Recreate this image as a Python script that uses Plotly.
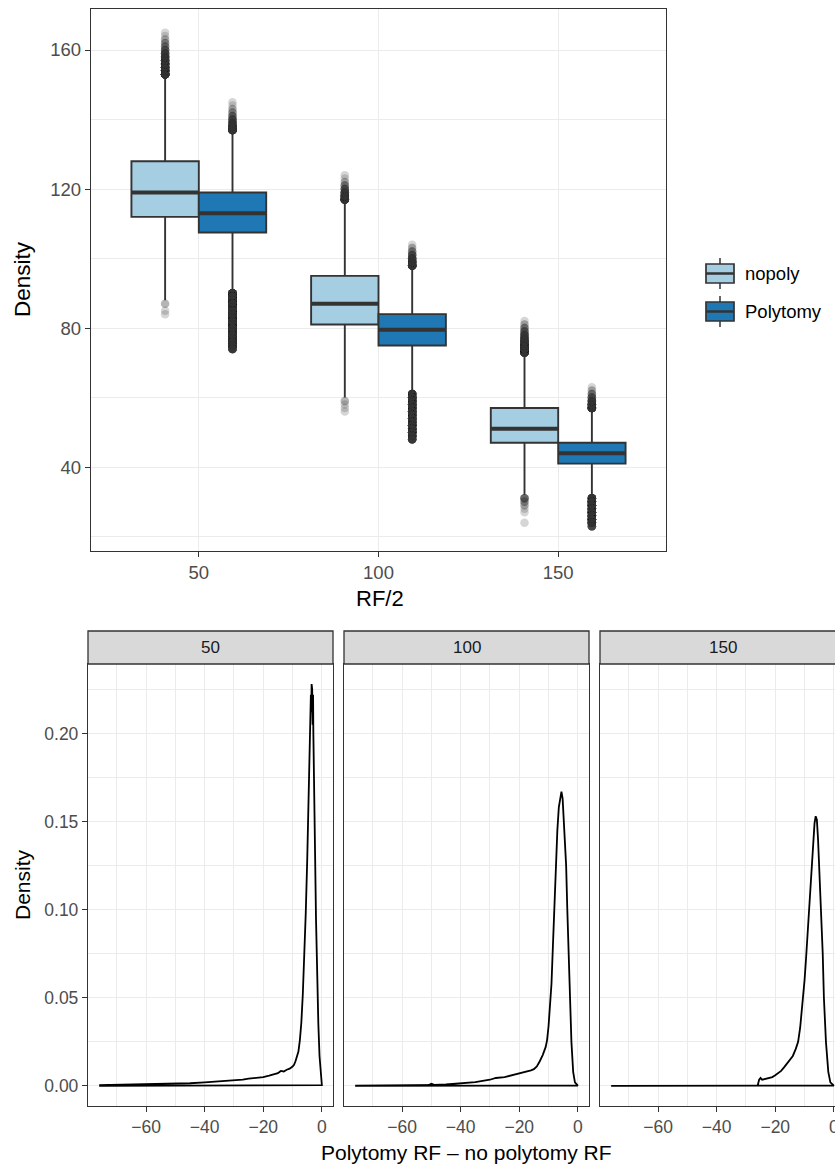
import plotly.graph_objects as go

W, H = 835, 1170

# ---------------- box plot data (RF/2 groups) ----------------
rf_groups = ["50", "100", "150"]
series_names = ["nopoly", "Polytomy"]

nopoly_q1 = [112, 81, 47]
nopoly_median = [119, 87, 51]
nopoly_q3 = [128, 95, 57]
nopoly_lowerfence = [88, 60, 32]
nopoly_upperfence = [152, 116, 72]

poly_q1 = [107.5, 75, 41]
poly_median = [113, 79.5, 44]
poly_q3 = [119, 84, 47]
poly_lowerfence = [91, 62, 32]
poly_upperfence = [136, 97, 56]

# outliers as (value, number of observations) per group
nopoly_outliers = [
    [(153, 40), (154, 30), (155, 25), (156, 20), (157, 16), (158, 12), (159, 9),
     (160, 6), (161, 4), (162, 3), (163, 2), (164, 1), (165, 1),
     (87, 2), (85, 1), (84, 1)],
    [(117, 30), (118, 20), (119, 12), (120, 7), (121, 4), (122, 2), (123, 1), (124, 1),
     (59, 2), (58, 1), (57, 1), (56, 1)],
    [(73, 30), (74, 30), (75, 25), (76, 20), (77, 14), (78, 10), (79, 6), (80, 4),
     (81, 2), (82, 1),
     (31, 6), (30, 3), (29, 2), (28, 1), (27, 1), (24, 1)],
]
poly_outliers = [
    [(137, 30), (138, 20), (139, 12), (140, 8), (141, 5), (142, 3), (143, 2), (144, 1), (145, 1),
     (90, 25), (89, 30), (88, 30), (87, 30), (86, 30), (85, 30), (84, 30), (83, 30),
     (82, 30), (81, 30), (80, 30), (79, 30), (78, 30), (77, 30), (76, 30), (75, 25), (74, 15)],
    [(98, 30), (99, 20), (100, 12), (101, 7), (102, 4), (103, 2), (104, 1),
     (61, 20), (60, 30), (59, 30), (58, 30), (57, 30), (56, 30), (55, 30), (54, 30),
     (53, 30), (52, 30), (51, 30), (50, 30), (49, 25), (48, 15)],
    [(57, 30), (58, 20), (59, 12), (60, 7), (61, 4), (62, 2), (63, 1),
     (31, 20), (30, 30), (29, 30), (28, 30), (27, 30), (26, 30), (25, 30), (24, 25), (23, 10)],
]

# ---------------- density data (Polytomy RF - no polytomy RF) ----------------
facet_labels = ["50", "100", "150"]

dens50_x = [-76, -70, -65, -60, -55, -50, -45, -40, -35, -30,
            -27, -25, -22, -20, -18, -17, -15, -14, -13, -12,
            -11, -10, -9.5, -9, -8.5, -8, -7.5, -7, -6.5, -6,
            -5.5, -5, -4.7, -4.4, -4.2, -4.0, -3.9, -3.75, -3.6, -3.5,
            -3.4, -3.3, -3.15, -3.0, -2.9, -2.8, -2.6, -2.3, -2.0, -1.6,
            -1.2, -0.8, -0.4, 0]
dens50_y = [0.0004, 0.0006, 0.0006, 0.0008, 0.0010, 0.0012, 0.0015, 0.0020, 0.0025, 0.0031,
            0.0036, 0.0041, 0.0046, 0.0050, 0.0058, 0.0062, 0.0072, 0.0085, 0.0082, 0.0092,
            0.0098, 0.0110, 0.0120, 0.0140, 0.0165, 0.0195, 0.0260, 0.0360, 0.0520, 0.0730,
            0.0980, 0.1280, 0.1500, 0.1850, 0.1950, 0.2150, 0.2050, 0.2220, 0.2120, 0.2280,
            0.2150, 0.2250, 0.2050, 0.2220, 0.2000, 0.1800, 0.1650, 0.1300, 0.0950, 0.0600,
            0.0350, 0.0170, 0.0060, 0.0005]

dens100_x = [-76, -65, -55, -51, -50, -49, -45, -40, -35, -30,
             -28, -25, -22, -20, -18, -16, -15, -14, -13, -12,
             -11, -10.5, -10, -9.5, -9, -8.5, -8, -7.5, -7, -6.5,
             -6, -5.6, -5.2, -4.8, -4.4, -4.0, -3.6, -3.2, -2.7, -2.2,
             -1.6, -1.0, 0]
dens100_y = [0.0002, 0.0002, 0.0003, 0.0004, 0.0012, 0.0006, 0.0008, 0.0015, 0.0022, 0.0035,
             0.0045, 0.0050, 0.0062, 0.0068, 0.0080, 0.0088, 0.0095, 0.0110, 0.0140, 0.0175,
             0.0220, 0.0260, 0.0340, 0.0440, 0.0580, 0.0800, 0.1030, 0.1250, 0.1450, 0.1580,
             0.1650, 0.1670, 0.1630, 0.1500, 0.1400, 0.1250, 0.1000, 0.0750, 0.0500, 0.0250,
             0.0080, 0.0020, 0.0002]

dens150_x = [-76, -27, -26, -25.5, -25, -24.5, -24, -23, -22, -21,
             -20, -19, -18, -17, -16, -15, -14, -13, -12.2, -11.5,
             -11, -10.5, -10, -9.5, -9, -8.5, -8, -7.5, -7, -6.6,
             -6.2, -5.8, -5.4, -5.0, -4.6, -4.3, -3.8, -3.4, -2.7, -1.9,
             -1.2, 0]
dens150_y = [0.0, 0.0, 0.0002, 0.0035, 0.0045, 0.0035, 0.0037, 0.0038, 0.0042, 0.0050,
             0.0060, 0.0072, 0.0085, 0.0105, 0.0125, 0.0148, 0.0170, 0.0210, 0.0250, 0.0330,
             0.0410, 0.0500, 0.0600, 0.0720, 0.0850, 0.0980, 0.1100, 0.1250, 0.1390, 0.1490,
             0.1530, 0.1510, 0.1400, 0.1250, 0.1100, 0.1000, 0.0750, 0.0500, 0.0250, 0.0080,
             0.0020, 0.0002]

density_x = [dens50_x, dens100_x, dens150_x]
density_y = [dens50_y, dens100_y, dens150_y]

# ---------------- styling ----------------
FILL = {"nopoly": "#A6CEE3", "Polytomy": "#1F78B4"}
DARK = "#333333"
GRID = "#EBEBEB"
TICKFONT = "#4D4D4D"
FONT = "Liberation Sans, Arial, sans-serif"


def fx(px):
    return px / W


def fy(py):
    return 1 - py / H


fig = go.Figure()

# ---------------- top: grouped box plot ----------------
dodge = 0.1875
box_w = 0.375
groups = list(range(1, len(rf_groups) + 1))

box_sets = [
    ("nopoly", -dodge, nopoly_q1, nopoly_median, nopoly_q3, nopoly_lowerfence, nopoly_upperfence, nopoly_outliers),
    ("Polytomy", dodge, poly_q1, poly_median, poly_q3, poly_lowerfence, poly_upperfence, poly_outliers),
]

for name, off, q1, med, q3, lo, hi, outs in box_sets:
    centers = [g + off for g in groups]
    fig.add_trace(go.Box(
        x=centers, q1=q1, median=med, q3=q3, lowerfence=lo, upperfence=hi,
        width=box_w, whiskerwidth=0, boxpoints=False,
        fillcolor=FILL[name], line=dict(color=DARK, width=1.9),
        name=name, xaxis="x", yaxis="y", hoverinfo="skip",
    ))
    # thicker median bars
    mx, my = [], []
    for c, m in zip(centers, med):
        mx += [c - box_w / 2, c + box_w / 2, None]
        my += [m, m, None]
    fig.add_trace(go.Scatter(x=mx, y=my, mode="lines", line=dict(color=DARK, width=4),
                             xaxis="x", yaxis="y", hoverinfo="skip"))
    # outliers (semi-transparent, so repeated values pile up darker)
    ox, oy = [], []
    for c, pts in zip(centers, outs):
        for v, n in pts:
            ox += [c] * n
            oy += [v] * n
    fig.add_trace(go.Scatter(x=ox, y=oy, mode="markers",
                             marker=dict(size=8.5, color="rgba(51,51,51,0.2)", line=dict(width=0)),
                             xaxis="x", yaxis="y", hoverinfo="skip"))

# ---------------- bottom: density facets ----------------
for i, (dx, dy) in enumerate(zip(density_x, density_y)):
    k = i + 2
    # closed outline: curve plus baseline back to the start
    xs = list(dx) + [dx[0]]
    ys = list(dy) + [0.0]
    fig.add_trace(go.Scatter(x=xs, y=ys, mode="lines", line=dict(color="black", width=1.8),
                             xaxis=f"x{k}", yaxis=f"y{k}", hoverinfo="skip"))

# ---------------- axes ----------------
line_kw = dict(showline=True, linecolor=DARK, linewidth=1.3, zeroline=False, automargin=False,
               ticks="outside", ticklen=5, tickwidth=1.2, tickcolor=DARK,
               gridcolor=GRID, gridwidth=1.3)

layout = dict(
    width=W, height=H, margin=dict(l=0, r=0, t=0, b=0, autoexpand=False),
    paper_bgcolor="white", plot_bgcolor="white", showlegend=False,
    font=dict(family=FONT, color="black"),
    xaxis=dict(domain=[fx(91), fx(666)], range=[0.4, 3.6], anchor="y",
               tickvals=groups, ticktext=rf_groups, mirror=True,
               tickfont=dict(size=18.5, color=TICKFONT), **line_kw),
    yaxis=dict(domain=[fy(551), fy(9)], range=[15.85, 171.8], anchor="x",
               tickvals=[40, 80, 120, 160], mirror=True,
               minor=dict(tickvals=[20, 60, 100, 140], showgrid=True, gridcolor=GRID, gridwidth=0.7),
               tickfont=dict(size=18.5, color=TICKFONT), **line_kw),
)

PANEL_TOP, PANEL_BOTTOM = 664, 1106
STRIP_TOP = 631
full_range = [-79.8, 3.8]
px_per_unit = 245 / (full_range[1] - full_range[0])
facet_left = [88, 344, 600]
for i, left in enumerate(facet_left):
    k = i + 2
    right = left + 245
    if right > W:
        # last facet runs past the page edge
        xr = [full_range[0], full_range[0] + (W - left) / px_per_unit]
        right_px = W
    else:
        xr = full_range
        right_px = right
    layout[f"xaxis{k}"] = dict(
        domain=[fx(left), fx(right_px)], range=xr, anchor=f"y{k}",
        tickvals=[-60, -40, -20, 0], mirror=True, ticklabeloverflow="allow",
        minor=dict(tickvals=[-70, -50, -30, -10], showgrid=True, gridcolor=GRID, gridwidth=0.7),
        tickfont=dict(size=17.5, color=TICKFONT), **line_kw)
    ykw = dict(line_kw)
    if i > 0:
        ykw["ticks"] = ""
    layout[f"yaxis{k}"] = dict(
        domain=[fy(PANEL_BOTTOM), fy(PANEL_TOP)], range=[-0.0114, 0.2394], anchor=f"x{k}",
        tickvals=[0.0, 0.05, 0.10, 0.15, 0.20], ticktext=["0.00", "0.05", "0.10", "0.15", "0.20"],
        minor=dict(tickvals=[0.025, 0.075, 0.125, 0.175, 0.225], showgrid=True, gridcolor=GRID, gridwidth=0.7),
        showticklabels=(i == 0), mirror=(right <= W),
        tickfont=dict(size=17.5, color=TICKFONT), **ykw)

# ---------------- strips, legend, titles ----------------
shapes = []
annotations = []
for i, left in enumerate(facet_left):
    right = left + 245
    shapes.append(dict(type="rect", xref="paper", yref="paper",
                       x0=fx(left), x1=fx(right), y0=fy(PANEL_TOP), y1=fy(STRIP_TOP),
                       fillcolor="#D9D9D9", line=dict(color=DARK, width=1.3), layer="above"))
    annotations.append(dict(text=facet_labels[i], xref="paper", yref="paper",
                            x=fx((left + right) / 2), y=fy((PANEL_TOP + STRIP_TOP) / 2), showarrow=False,
                            xanchor="center", yanchor="middle",
                            font=dict(size=17, color="#1A1A1A")))

# legend keys
legend_rows = [(264, 283), (302, 321)]
for name, (top, bot) in zip(series_names, legend_rows):
    mid = (top + bot) / 2
    shapes.append(dict(type="line", xref="paper", yref="paper", x0=fx(720), x1=fx(720),
                       y0=fy(top - 6), y1=fy(bot + 6), line=dict(color=DARK, width=1.5)))
    shapes.append(dict(type="rect", xref="paper", yref="paper", x0=fx(706), x1=fx(734),
                       y0=fy(bot), y1=fy(top), fillcolor=FILL[name], line=dict(color=DARK, width=1.7)))
    shapes.append(dict(type="line", xref="paper", yref="paper", x0=fx(706), x1=fx(734),
                       y0=fy(mid), y1=fy(mid), line=dict(color=DARK, width=2.5)))
    annotations.append(dict(text=name, xref="paper", yref="paper", x=fx(743), y=fy(mid),
                            showarrow=False, xanchor="left", yanchor="middle",
                            font=dict(size=18.5, color="black")))

# axis titles
annotations += [
    dict(text="Density", xref="paper", yref="paper", x=fx(22), y=fy(279), textangle=-90,
         showarrow=False, xanchor="center", yanchor="middle", font=dict(size=22.5)),
    dict(text="RF/2", xref="paper", yref="paper", x=fx(380), y=fy(598),
         showarrow=False, xanchor="center", yanchor="middle", font=dict(size=22)),
    dict(text="Density", xref="paper", yref="paper", x=fx(22), y=fy((PANEL_TOP + PANEL_BOTTOM) / 2),
         textangle=-90, showarrow=False, xanchor="center", yanchor="middle", font=dict(size=21)),
    dict(text="Polytomy RF \u2013 no polytomy RF", xref="paper", yref="paper", x=fx(466), y=fy(1152),
         showarrow=False, xanchor="center", yanchor="middle", font=dict(size=21)),
]

layout["shapes"] = shapes
layout["annotations"] = annotations
fig.update_layout(**layout)

# clip anything drawn past the right page edge so the page does not grow wider
clip_js = (
    "document.documentElement.style.overflow='hidden';"
    "document.body.style.overflow='hidden';"
    "var d=document.getElementById('{plot_id}');"
    "d.style.overflow='hidden';"
)
fig.write_html("out.html", post_script=clip_js)
